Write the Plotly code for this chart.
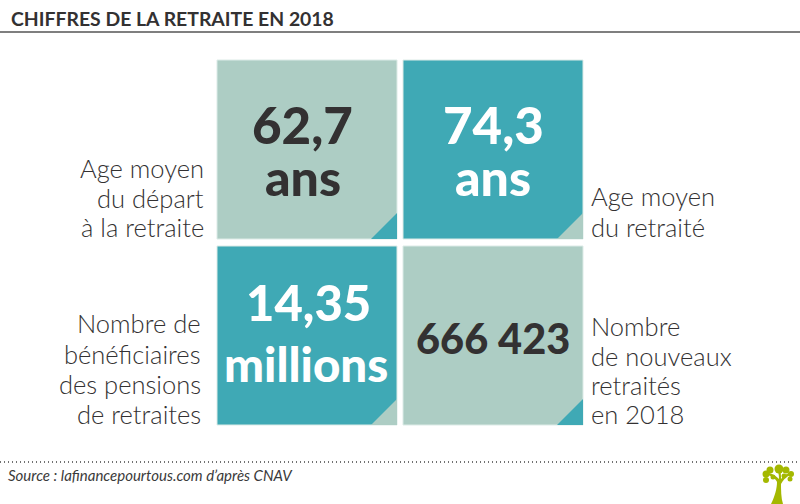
import plotly.graph_objects as go

TEAL = "#3fa9b5"
SAGE = "#adcdc4"
DARK = "#333132"
FONT = "Lato"

title = "CHIFFRES DE LA RETRAITE EN 2018"
source = "Source : lafinancepourtous.com d’après CNAV"

# one entry per square
big_lines = [["62,7", "ans"], ["74,3", "ans"], ["14,35", "millions"], ["666 423"]]
labels = [
    ["Age moyen", "du départ", "à la retraite"],
    ["Age moyen", "du retraité"],
    ["Nombre de", "bénéficiaires", "des pensions", "de retraites"],
    ["Nombre", "de nouveaux", "retraités", "en 2018"],
]
fills = [SAGE, TEAL, TEAL, SAGE]
corners = [TEAL, SAGE, SAGE, TEAL]
big_colors = [DARK, "white", "white", DARK]

# layout of the page, in pixels
squares = [(217, 60, 397, 239), (403, 60, 583, 239), (217, 246, 397, 425), (403, 246, 583, 425)]
big_x = [[302, 303], [493, 493], [308, 306], [493]]
big_y = [[124, 177], [124, 177], [302, 363], [338]]
big_size = [[51, 50], [51, 50], [49, 47.5], [41.5]]
label_x = [206, 589, 203, 589]
label_anchor = ["right", "left", "right", "left"]
label_y = [[168, 198, 227], [196, 227], [323, 354, 384, 414], [326, 356, 385, 414]]

fig = go.Figure()
shapes = []
annotations = []


def add_text(x, y, text, size, color=DARK, anchor="left", weight=400):
    annotations.append(dict(x=x, y=y, text=text, showarrow=False, xanchor=anchor, yanchor="middle",
                            font=dict(family=FONT, size=size, color=color, weight=weight)))


for i, (x0, y0, x1, y1) in enumerate(squares):
    shapes.append(dict(type="rect", x0=x0, y0=y0, x1=x1, y1=y1, fillcolor=fills[i],
                       line=dict(color="#dcebe7", width=1)))
    shapes.append(dict(type="path", path=f"M {x1-26} {y1} L {x1} {y1-26} L {x1} {y1} Z",
                       fillcolor=corners[i], line=dict(width=0)))
    for line, x, y, size in zip(big_lines[i], big_x[i], big_y[i], big_size[i]):
        add_text(x, y, line, size, big_colors[i], "center", 900)
    for line, y in zip(labels[i], label_y[i]):
        add_text(label_x[i], y, line, 25.5, DARK, label_anchor[i], 300)

# title and rules
add_text(9, 18, title, 19.4, weight=700)
shapes.append(dict(type="line", x0=0, x1=800, y0=32, y1=32, line=dict(color="#555555", width=1.5)))
shapes.append(dict(type="line", x0=0, x1=800, y0=462, y1=462, line=dict(color="#444444", width=1.5, dash="1px 3px")))
add_text(6, 475, f"<i>{source}</i>", 15, "#3a3a3a")

# tree logo
GREEN = "#a4b800"
shapes.append(dict(type="path",
                   path="M 771 504 C 775 496 777 488 777 482 L 781 482 C 781 490 781 498 783 504 Z",
                   fillcolor=GREEN, line=dict(width=0)))
shapes.append(dict(type="path",
                   path="M 778 484 C 776 478 771 476 768 475 L 769 473 C 773 474 776 476 779 479 "
                        "C 779 474 778 471 777 469 L 780 469 C 781 473 781 476 781 479 "
                        "C 783 476 786 474 789 473 L 790 475 C 786 477 783 480 781 484 Z",
                   fillcolor=GREEN, line=dict(width=0)))
for x, y, r in [(766, 474, 3.5), (770, 470, 3.5), (766, 480, 3), (773, 477, 2.5), (779, 469, 4.5),
                (786, 470, 3.5), (791, 474, 3), (790, 479, 2.5), (784, 476, 2.5)]:
    shapes.append(dict(type="circle", x0=x - r, x1=x + r, y0=y - r, y1=y + r,
                       fillcolor=GREEN, line=dict(width=0)))

fig.update_layout(
    width=800, height=504, margin=dict(l=0, r=0, t=0, b=0),
    paper_bgcolor="white", plot_bgcolor="white", showlegend=False,
    xaxis=dict(range=[0, 800], visible=False, fixedrange=True),
    yaxis=dict(range=[504, 0], visible=False, fixedrange=True),
    shapes=shapes, annotations=annotations,
)
# the page body has a default margin, the chart must sit at 0,0
fig.write_html("out.html", config=dict(displayModeBar=False),
               post_script="document.body.style.margin='0';document.body.style.overflow='hidden';")
